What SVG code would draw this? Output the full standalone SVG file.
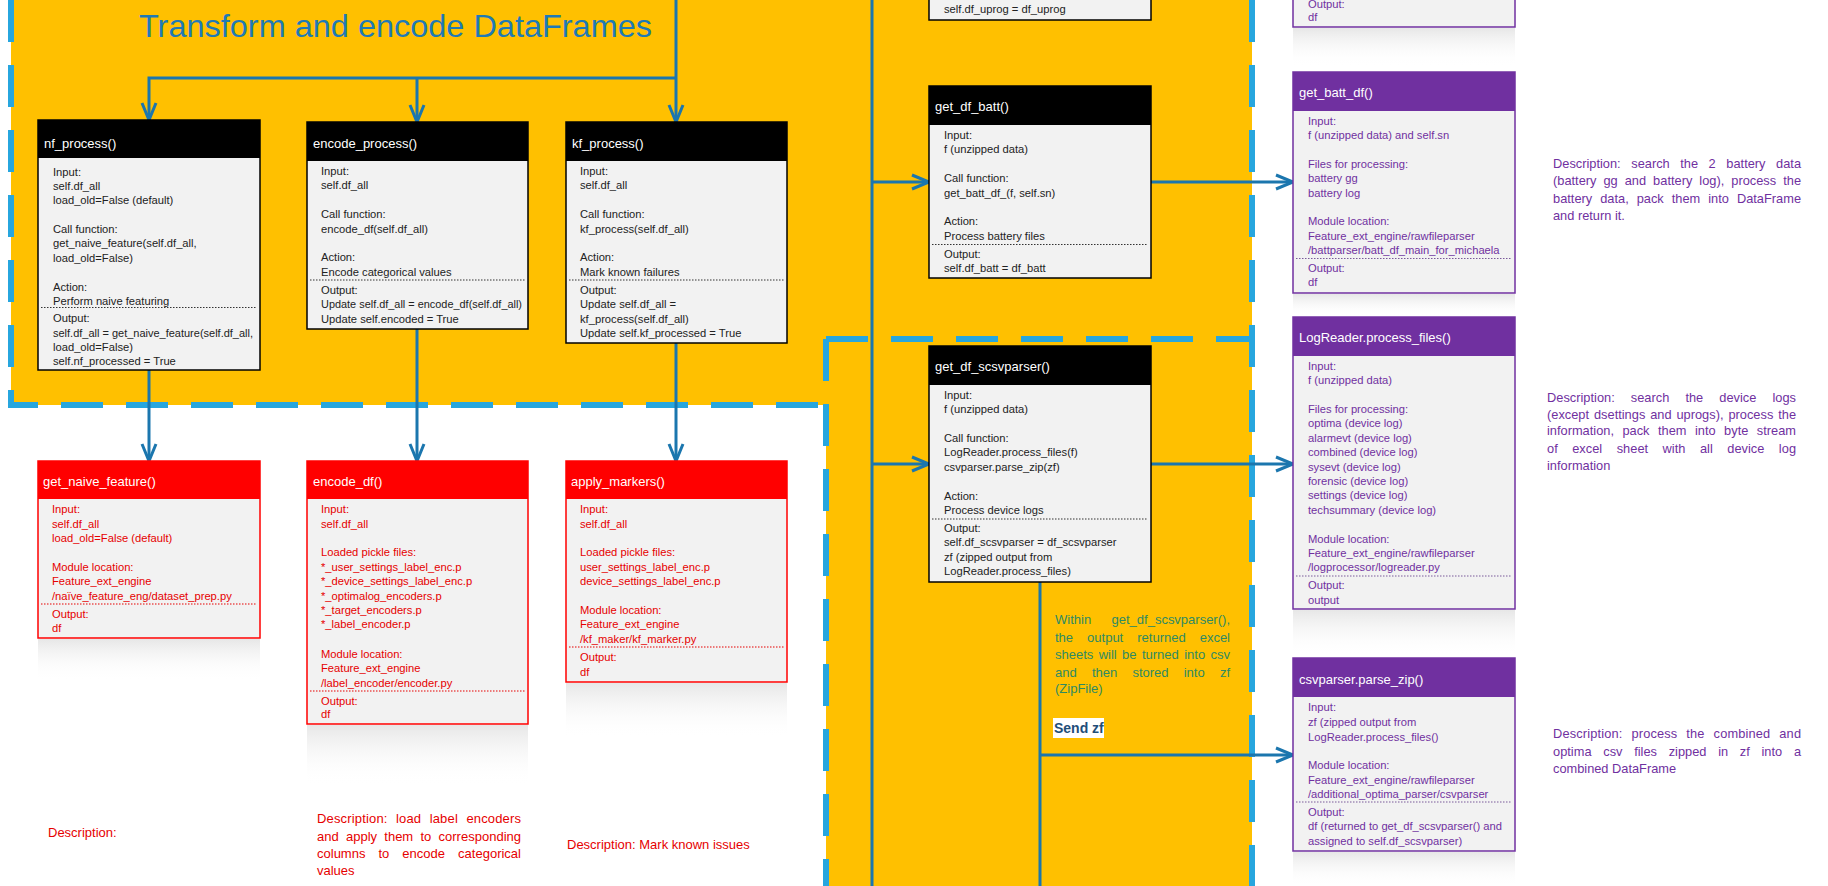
<svg xmlns="http://www.w3.org/2000/svg" width="1828" height="886" viewBox="0 0 1828 886">
<style>
text{font-family:"Liberation Sans",Arial,sans-serif}
.title{fill:#fff;font-size:13px}
.txt{font-size:11.2px}
.desc{font-size:12.8px}
.bk{fill:#F2F2F2;stroke:#000;stroke-width:1.5}
.hk{fill:#000}
.tk{fill:#222}
.sk{stroke:#333;stroke-width:1;stroke-dasharray:1.5 1.5}
.br{fill:#F2F2F2;stroke:#FF0000;stroke-width:1.5}
.hr{fill:#FF0000}
.tr{fill:#E60000}
.sr{stroke:#E60000;stroke-width:1;stroke-dasharray:1.5 1.5}
.bp{fill:#F2F2F2;stroke:#7030A0;stroke-width:1.5}
.hp{fill:#7030A0}
.tp{fill:#7030A0}
.sp{stroke:#7a5a9a;stroke-width:1;stroke-dasharray:1.5 1.5}
.dash{fill:none;stroke:#27A6DE;stroke-width:6;stroke-dasharray:42 23}
.conn{fill:none;stroke:#1B76AE;stroke-width:3}
.refl{fill:url(#reflg)}
</style>
<defs>
<marker id="arr" markerUnits="userSpaceOnUse" markerWidth="22" markerHeight="20" refX="18" refY="9" orient="auto">
<path d="M1,2 L18,9 L1,16" fill="none" stroke="#1B76AE" stroke-width="3"/>
</marker>
<linearGradient id="reflg" x1="0" y1="0" x2="0" y2="1">
<stop offset="0" stop-color="#e4e4e4" stop-opacity="0.9"/>
<stop offset="1" stop-color="#ffffff" stop-opacity="0"/>
</linearGradient>
</defs>

<!-- background regions -->
<g id="regions">
<polygon points="11,0 1252,0 1252,886 826,886 826,405 11,405" fill="#FFC000"/>
<path class="dash" d="M11,0 V405 H826"/>
<path class="dash" d="M826,339 V886"/>
<path class="dash" d="M826,339 H1252"/>
<path class="dash" d="M1252,0 V886"/>
<text x="139" y="37" font-size="32" fill="#1F7AB5" textLength="513" lengthAdjust="spacingAndGlyphs">Transform and encode DataFrames</text>
</g>

<!-- connectors -->
<g id="connectors">
<path class="conn" d="M676,0 V122" marker-end="url(#arr)"/>
<path class="conn" d="M676,78 H149 V120" marker-end="url(#arr)"/>
<path class="conn" d="M417,78 V122" marker-end="url(#arr)"/>
<path class="conn" d="M149,370 V461" marker-end="url(#arr)"/>
<path class="conn" d="M417,329 V461" marker-end="url(#arr)"/>
<path class="conn" d="M676,343 V461" marker-end="url(#arr)"/>
<path class="conn" d="M872,0 V886"/>
<path class="conn" d="M872,182 H929" marker-end="url(#arr)"/>
<path class="conn" d="M1151,182 H1293" marker-end="url(#arr)"/>
<path class="conn" d="M872,464 H929" marker-end="url(#arr)"/>
<path class="conn" d="M1151,464 H1293" marker-end="url(#arr)"/>
<path class="conn" d="M1040,582 V886"/>
<path class="conn" d="M1040,755 H1293" marker-end="url(#arr)"/>
</g>

<!-- black nodes -->
<g id="nf_process">
<rect class="bk" x="38" y="120" width="222" height="250"/>
<rect class="hk" x="38" y="120" width="222" height="38"/>
<text class="title" x="44" y="147.5">nf_process()</text>
<line class="sk" x1="41" y1="307.5" x2="257" y2="307.5"/>
<text class="txt tk">
<tspan x="53" y="176">Input:</tspan>
<tspan x="53" y="190">self.df_all</tspan>
<tspan x="53" y="204">load_old=False (default)</tspan>
<tspan x="53" y="232.5">Call function:</tspan>
<tspan x="53" y="247">get_naive_feature(self.df_all,</tspan>
<tspan x="53" y="261.5">load_old=False)</tspan>
<tspan x="53" y="290.5">Action:</tspan>
<tspan x="53" y="304.5">Perform naive featuring</tspan>
<tspan x="53" y="322">Output:</tspan>
<tspan x="53" y="336.5" textLength="200" lengthAdjust="spacingAndGlyphs">self.df_all = get_naive_feature(self.df_all,</tspan>
<tspan x="53" y="351">load_old=False)</tspan>
<tspan x="53" y="365">self.nf_processed = True</tspan>
</text>
</g>

<g id="encode_process">
<rect class="bk" x="307" y="122" width="221" height="207"/>
<rect class="hk" x="307" y="122" width="221" height="39"/>
<text class="title" x="313" y="147.5">encode_process()</text>
<line class="sk" x1="310" y1="280" x2="525" y2="280"/>
<text class="txt tk">
<tspan x="321" y="174.5">Input:</tspan>
<tspan x="321" y="188.5">self.df_all</tspan>
<tspan x="321" y="217.5">Call function:</tspan>
<tspan x="321" y="232.5">encode_df(self.df_all)</tspan>
<tspan x="321" y="260.5">Action:</tspan>
<tspan x="321" y="275.5">Encode categorical values</tspan>
<tspan x="321" y="293.5">Output:</tspan>
<tspan x="321" y="307.5" textLength="201" lengthAdjust="spacingAndGlyphs">Update self.df_all = encode_df(self.df_all)</tspan>
<tspan x="321" y="322.5">Update self.encoded = True</tspan>
</text>
</g>

<g id="kf_process">
<rect class="bk" x="566" y="122" width="221" height="221"/>
<rect class="hk" x="566" y="122" width="221" height="39"/>
<text class="title" x="572" y="147.5">kf_process()</text>
<line class="sk" x1="569" y1="280" x2="784" y2="280"/>
<text class="txt tk">
<tspan x="580" y="174.5">Input:</tspan>
<tspan x="580" y="188.5">self.df_all</tspan>
<tspan x="580" y="217.5">Call function:</tspan>
<tspan x="580" y="232.5">kf_process(self.df_all)</tspan>
<tspan x="580" y="260.5">Action:</tspan>
<tspan x="580" y="275.5">Mark known failures</tspan>
<tspan x="580" y="293.5">Output:</tspan>
<tspan x="580" y="307.5">Update self.df_all =</tspan>
<tspan x="580" y="322.5">kf_process(self.df_all)</tspan>
<tspan x="580" y="336.5">Update self.kf_processed = True</tspan>
</text>
</g>

<g id="get_df_uprog">
<rect class="bk" x="929" y="-30" width="222" height="50"/>
<text class="txt tk"><tspan x="944" y="12.5">self.df_uprog = df_uprog</tspan></text>
</g>

<g id="get_df_batt">
<rect class="bk" x="929" y="86" width="222" height="192"/>
<rect class="hk" x="929" y="86" width="222" height="39"/>
<text class="title" x="935" y="110.5">get_df_batt()</text>
<line class="sk" x1="932" y1="244.5" x2="1148" y2="244.5"/>
<text class="txt tk">
<tspan x="944" y="138.5">Input:</tspan>
<tspan x="944" y="152.5">f (unzipped data)</tspan>
<tspan x="944" y="181.5">Call function:</tspan>
<tspan x="944" y="196.5">get_batt_df_(f, self.sn)</tspan>
<tspan x="944" y="224.5">Action:</tspan>
<tspan x="944" y="239.5">Process battery files</tspan>
<tspan x="944" y="257.5">Output:</tspan>
<tspan x="944" y="271.5">self.df_batt = df_batt</tspan>
</text>
</g>

<g id="get_df_scsvparser">
<rect class="bk" x="929" y="346" width="222" height="236"/>
<rect class="hk" x="929" y="346" width="222" height="39"/>
<text class="title" x="935" y="370.5">get_df_scsvparser()</text>
<line class="sk" x1="932" y1="519" x2="1148" y2="519"/>
<text class="txt tk">
<tspan x="944" y="398.5">Input:</tspan>
<tspan x="944" y="412.5">f (unzipped data)</tspan>
<tspan x="944" y="441.5">Call function:</tspan>
<tspan x="944" y="455.5">LogReader.process_files(f)</tspan>
<tspan x="944" y="470.5">csvparser.parse_zip(zf)</tspan>
<tspan x="944" y="499.5">Action:</tspan>
<tspan x="944" y="513.5">Process device logs</tspan>
<tspan x="944" y="531.5">Output:</tspan>
<tspan x="944" y="545.5">self.df_scsvparser = df_scsvparser</tspan>
<tspan x="944" y="560.5">zf (zipped output from</tspan>
<tspan x="944" y="574.5">LogReader.process_files)</tspan>
</text>
</g>

<g id="note_zf">
<text fill="#2F8A63" font-size="13">
<tspan x="1055" y="623.5" word-spacing="16.8" textLength="175" lengthAdjust="spacing">Within get_df_scsvparser(),</tspan>
<tspan x="1055" y="641.5" word-spacing="10.4" textLength="175" lengthAdjust="spacing">the output returned excel</tspan>
<tspan x="1055" y="658.5" word-spacing="1.8" textLength="175" lengthAdjust="spacing">sheets will be turned into csv</tspan>
<tspan x="1055" y="676.5" word-spacing="11.6" textLength="175" lengthAdjust="spacing">and then stored into zf</tspan>
<tspan x="1055" y="692.5" word-spacing="0">(ZipFile)</tspan>
</text>
</g>
<g id="send_zf">
<rect x="1053" y="718" width="51" height="20" fill="#fff"/>
<text x="1054" y="733" font-size="14" font-weight="bold" fill="#1F4E79">Send zf</text>
</g>

<!-- red nodes -->
<g id="get_naive_feature">
<rect class="refl" x="38" y="639" width="222" height="42"/>
<rect class="br" x="38" y="461" width="222" height="177"/>
<rect class="hr" x="38" y="461" width="222" height="38"/>
<text class="title" x="43" y="485.5">get_naive_feature()</text>
<line class="sr" x1="41" y1="604" x2="257" y2="604"/>
<text class="txt tr">
<tspan x="52" y="512.5">Input:</tspan>
<tspan x="52" y="527.5">self.df_all</tspan>
<tspan x="52" y="541.5">load_old=False (default)</tspan>
<tspan x="52" y="570.5">Module location:</tspan>
<tspan x="52" y="584.5">Feature_ext_engine</tspan>
<tspan x="52" y="599.5">/naïve_feature_eng/dataset_prep.py</tspan>
<tspan x="52" y="617.5">Output:</tspan>
<tspan x="52" y="631.5">df</tspan>
</text>
</g>

<g id="encode_df">
<rect class="refl" x="307" y="725" width="221" height="60"/>
<rect class="br" x="307" y="461" width="221" height="263"/>
<rect class="hr" x="307" y="461" width="221" height="38"/>
<text class="title" x="313" y="485.5">encode_df()</text>
<line class="sr" x1="310" y1="691" x2="525" y2="691"/>
<text class="txt tr">
<tspan x="321" y="512.5">Input:</tspan>
<tspan x="321" y="527.5">self.df_all</tspan>
<tspan x="321" y="555.5">Loaded pickle files:</tspan>
<tspan x="321" y="570.5">*_user_settings_label_enc.p</tspan>
<tspan x="321" y="584.5">*_device_settings_label_enc.p</tspan>
<tspan x="321" y="599.5">*_optimalog_encoders.p</tspan>
<tspan x="321" y="613.5">*_target_encoders.p</tspan>
<tspan x="321" y="627.5">*_label_encoder.p</tspan>
<tspan x="321" y="657.5">Module location:</tspan>
<tspan x="321" y="671.5">Feature_ext_engine</tspan>
<tspan x="321" y="686.5">/label_encoder/encoder.py</tspan>
<tspan x="321" y="704.5">Output:</tspan>
<tspan x="321" y="717.5">df</tspan>
</text>
</g>

<g id="apply_markers">
<rect class="refl" x="566" y="683" width="221" height="55"/>
<rect class="br" x="566" y="461" width="221" height="221"/>
<rect class="hr" x="566" y="461" width="221" height="38"/>
<text class="title" x="571" y="485.5">apply_markers()</text>
<line class="sr" x1="569" y1="647" x2="784" y2="647"/>
<text class="txt tr">
<tspan x="580" y="512.5">Input:</tspan>
<tspan x="580" y="527.5">self.df_all</tspan>
<tspan x="580" y="555.5">Loaded pickle files:</tspan>
<tspan x="580" y="570.5">user_settings_label_enc.p</tspan>
<tspan x="580" y="584.5">device_settings_label_enc.p</tspan>
<tspan x="580" y="613.5">Module location:</tspan>
<tspan x="580" y="627.5">Feature_ext_engine</tspan>
<tspan x="580" y="642.5">/kf_maker/kf_marker.py</tspan>
<tspan x="580" y="660.5">Output:</tspan>
<tspan x="580" y="675.5">df</tspan>
</text>
</g>

<g id="red_descriptions">
<text class="tr" font-size="13"><tspan x="48" y="836.5">Description:</tspan></text>
<text class="tr" font-size="13">
<tspan x="317" y="822.5" word-spacing="4.7" textLength="204" lengthAdjust="spacing">Description: load label encoders</tspan>
<tspan x="317" y="840.5" word-spacing="3.6" textLength="204" lengthAdjust="spacing">and apply them to corresponding</tspan>
<tspan x="317" y="857.5" word-spacing="9.4" textLength="204" lengthAdjust="spacing">columns to encode categorical</tspan>
<tspan x="317" y="874.5" word-spacing="0">values</tspan>
</text>
<text class="tr" font-size="13"><tspan x="567" y="848.5">Description: Mark known issues</tspan></text>
</g>

<!-- purple nodes -->
<g id="get_dsettings_df">
<rect class="refl" x="1293" y="28" width="222" height="38"/>
<rect class="bp" x="1293" y="-40" width="222" height="67"/>
<text class="txt tp">
<tspan x="1308" y="7.5">Output:</tspan>
<tspan x="1308" y="20.5">df</tspan>
</text>
</g>

<g id="get_batt_df">
<rect class="refl" x="1293" y="294" width="222" height="22"/>
<rect class="bp" x="1293" y="72" width="222" height="221"/>
<rect class="hp" x="1293" y="72" width="222" height="39"/>
<text class="title" x="1299" y="96.5">get_batt_df()</text>
<line class="sp" x1="1296" y1="258.5" x2="1512" y2="258.5"/>
<text class="txt tp">
<tspan x="1308" y="124.5">Input:</tspan>
<tspan x="1308" y="138.5">f (unzipped data) and self.sn</tspan>
<tspan x="1308" y="167.5">Files for processing:</tspan>
<tspan x="1308" y="181.5">battery gg</tspan>
<tspan x="1308" y="196.5">battery log</tspan>
<tspan x="1308" y="224.5">Module location:</tspan>
<tspan x="1308" y="239.5">Feature_ext_engine/rawfileparser</tspan>
<tspan x="1308" y="253.5">/battparser/batt_df_main_for_michaela</tspan>
<tspan x="1308" y="271.5">Output:</tspan>
<tspan x="1308" y="285.5">df</tspan>
</text>
</g>

<g id="logreader_process_files">
<rect class="refl" x="1293" y="610" width="222" height="46"/>
<rect class="bp" x="1293" y="317" width="222" height="292"/>
<rect class="hp" x="1293" y="317" width="222" height="39"/>
<text class="title" x="1299" y="341.5">LogReader.process_files()</text>
<line class="sp" x1="1296" y1="576" x2="1512" y2="576"/>
<text class="txt tp">
<tspan x="1308" y="369.5">Input:</tspan>
<tspan x="1308" y="383.5">f (unzipped data)</tspan>
<tspan x="1308" y="412.5">Files for processing:</tspan>
<tspan x="1308" y="426.5">optima (device log)</tspan>
<tspan x="1308" y="441.5">alarmevt (device log)</tspan>
<tspan x="1308" y="455.5">combined (device log)</tspan>
<tspan x="1308" y="470.5">sysevt (device log)</tspan>
<tspan x="1308" y="484.5">forensic (device log)</tspan>
<tspan x="1308" y="498.5">settings (device log)</tspan>
<tspan x="1308" y="513.5">techsummary (device log)</tspan>
<tspan x="1308" y="542.5">Module location:</tspan>
<tspan x="1308" y="556.5">Feature_ext_engine/rawfileparser</tspan>
<tspan x="1308" y="570.5">/logprocessor/logreader.py</tspan>
<tspan x="1308" y="588.5">Output:</tspan>
<tspan x="1308" y="603.5">output</tspan>
</text>
</g>

<g id="csvparser_parse_zip">
<rect class="refl" x="1293" y="852" width="222" height="34"/>
<rect class="bp" x="1293" y="658" width="222" height="193"/>
<rect class="hp" x="1293" y="658" width="222" height="39"/>
<text class="title" x="1299" y="683.5">csvparser.parse_zip()</text>
<line class="sp" x1="1296" y1="802" x2="1512" y2="802"/>
<text class="txt tp">
<tspan x="1308" y="710.5">Input:</tspan>
<tspan x="1308" y="725.5">zf (zipped output from</tspan>
<tspan x="1308" y="740.5">LogReader.process_files()</tspan>
<tspan x="1308" y="768.5">Module location:</tspan>
<tspan x="1308" y="783.5">Feature_ext_engine/rawfileparser</tspan>
<tspan x="1308" y="797.5">/additional_optima_parser/csvparser</tspan>
<tspan x="1308" y="815.5">Output:</tspan>
<tspan x="1308" y="829.5">df (returned to get_df_scsvparser() and</tspan>
<tspan x="1308" y="844.5">assigned to self.df_scsvparser)</tspan>
</text>
</g>

<g id="purple_descriptions">
<text class="desc tp">
<tspan x="1553" y="167.5" word-spacing="7" textLength="248" lengthAdjust="spacing">Description: search the 2 battery data</tspan>
<tspan x="1553" y="184.5" word-spacing="3.4" textLength="248" lengthAdjust="spacing">(battery gg and battery log), process the</tspan>
<tspan x="1553" y="202.5" word-spacing="4.4" textLength="248" lengthAdjust="spacing">battery data, pack them into DataFrame</tspan>
<tspan x="1553" y="219.5" word-spacing="0">and return it.</tspan>
</text>
<text class="desc tp">
<tspan x="1547" y="401.5" word-spacing="12.5" textLength="249" lengthAdjust="spacing">Description: search the device logs</tspan>
<tspan x="1547" y="418.5" word-spacing="1.3" textLength="249" lengthAdjust="spacing">(except dsettings and uprogs), process the</tspan>
<tspan x="1547" y="434.5" word-spacing="4.9" textLength="249" lengthAdjust="spacing">information, pack them into byte stream</tspan>
<tspan x="1547" y="452.5" word-spacing="10.9" textLength="249" lengthAdjust="spacing">of excel sheet with all device log</tspan>
<tspan x="1547" y="469.5" word-spacing="0">information</tspan>
</text>
<text class="desc tp">
<tspan x="1553" y="737.5" word-spacing="5.2" textLength="248" lengthAdjust="spacing">Description: process the combined and</tspan>
<tspan x="1553" y="755.5" word-spacing="8.1" textLength="248" lengthAdjust="spacing">optima csv files zipped in zf into a</tspan>
<tspan x="1553" y="772.5" word-spacing="0">combined DataFrame</tspan>
</text>
</g>
</svg>
